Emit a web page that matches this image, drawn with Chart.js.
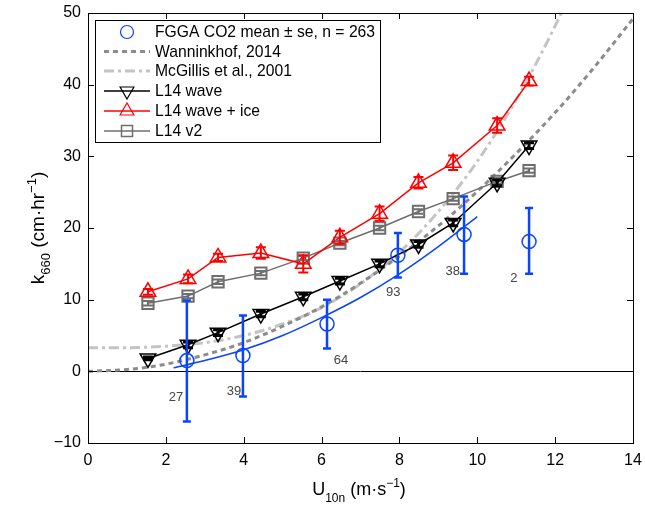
<!DOCTYPE html>
<html>
<head>
<meta charset="utf-8">
<script src="https://cdn.jsdelivr.net/npm/chart.js@4/dist/chart.umd.min.js"></script>
<style>
  html, body { margin: 0; padding: 0; background: #fff; }
  #wrap { width: 645px; height: 506px; position: relative; }
</style>
</head>
<body>
<div id="wrap"><canvas id="chart"></canvas></div>
<script>
// ---- data ----
const xTicks = [0, 2, 4, 6, 8, 10, 12, 14];
const yTicks = [-10, 0, 10, 20, 30, 40, 50];

// FGGA CO2 bin means with standard error
const fggaU    = [2.54, 3.98, 6.14, 7.96, 9.66, 11.33];
const fggaK    = [1.5, 2.2, 6.6, 16.2, 19.1, 18.1];
const fggaLow  = [-7.0, -3.5, 3.2, 13.1, 13.6, 13.6];
const fggaHigh = [9.9, 7.8, 10.0, 19.3, 24.4, 22.8];
const fggaN    = ['27', '39', '64', '93', '38', '2'];
const nLabelU  = [2.26, 3.75, 6.50, 7.84, 9.37, 10.94];
const nLabelK  = [-3.7, -2.8, 1.5, 11.0, 14.0, 13.0];

// fit through FGGA points
const fitU = [2.2, 3, 4, 5, 6, 7, 8, 9, 10];
const fitK = [0.5, 1.5, 3.0, 5.0, 7.5, 10.3, 13.6, 17.4, 21.6];

// Wanninkhof 2014 curve
const wanU = [0, 1, 2, 3, 4, 5, 6, 7, 8, 9, 10, 11, 12, 13, 14];
const wanK = [0, 0.25, 1.0, 2.3, 4.0, 6.3, 9.0, 12.3, 16.1, 20.3, 25.1, 30.4, 36.1, 42.4, 49.2];

// McGillis et al. 2001 curve
const mcgU = [0, 1, 2, 3, 4, 5, 6, 7, 8, 9, 10, 11, 12, 12.5];
const mcgK = [3.3, 3.3, 3.5, 4.0, 5.0, 6.6, 8.9, 12.2, 16.6, 22.3, 29.3, 37.9, 48.2, 54.1];

// L14 model bins
const l14U      = [1.54, 2.57, 3.34, 4.44, 5.53, 6.47, 7.49, 8.49, 9.38, 10.51, 11.33];
const waveK     = [1.8, 3.7, 5.4, 8.0, 10.4, 12.6, 15.0, 17.7, 20.7, 26.3, 31.5];
const waveErr   = [0.2, 0.4, 0.4, 0.4, 0.4, 0.4, 0.4, 0.4, 0.4, 0.4, 0.4];
const iceK      = [11.1, 12.9, 15.9, 16.5, 15.0, 18.7, 22.0, 26.3, 29.1, 34.3, 40.5];
const iceErr    = [0.4, 0.6, 0.5, 0.8, 1.2, 0.9, 1.0, 0.8, 1.0, 1.0, 0.6];
const v2K       = [9.5, 10.5, 12.5, 13.7, 15.8, 17.9, 20.0, 22.3, 24.1, 26.5, 28.0];
const v2Err     = [0.3, 0.3, 0.3, 0.3, 0.3, 0.3, 0.3, 0.3, 0.3, 0.3, 0.3];

const seriesNames = ['FGGA CO2 mean \u00b1 se, n = 263', 'Wanninkhof, 2014', 'McGillis et al., 2001',
                     'L14 wave', 'L14 wave + ice', 'L14 v2'];

const BLUE = '#0a44ff';
const GREY = '#6e6e6e';
const FONT = '"Liberation Sans", Arial, Helvetica, sans-serif';

function pts(xs, ys) { return xs.map((x, i) => ({ x: x, y: ys[i] })); }

// error bars, zero line, frame, inside ticks, tick labels, legend, axis titles
const decor = {
  id: 'decor',
  beforeDatasetsDraw(chart) {
    const { ctx, chartArea: a, scales: { y } } = chart;
    ctx.save();
    ctx.strokeStyle = '#000';
    ctx.lineWidth = 1;
    const y0 = Math.round(y.getPixelForValue(0)) + 0.5;
    ctx.beginPath(); ctx.moveTo(a.left, y0); ctx.lineTo(a.right, y0); ctx.stroke();
    ctx.restore();
  },
  afterDatasetsDraw(chart) {
    const { ctx, scales: { x, y } } = chart;
    ctx.save();
    const bars = (xs, lo, hi, color, lw, cap) => {
      ctx.strokeStyle = color; ctx.lineWidth = lw;
      xs.forEach((u, i) => {
        const px = x.getPixelForValue(u);
        const p1 = y.getPixelForValue(lo[i]), p2 = y.getPixelForValue(hi[i]);
        ctx.beginPath();
        ctx.moveTo(px, p1); ctx.lineTo(px, p2);
        ctx.moveTo(px - cap, p1); ctx.lineTo(px + cap, p1);
        ctx.moveTo(px - cap, p2); ctx.lineTo(px + cap, p2);
        ctx.stroke();
      });
    };
    bars(l14U, v2K.map((k, i) => k - v2Err[i]), v2K.map((k, i) => k + v2Err[i]), GREY, 2, 5);
    bars(l14U, waveK.map((k, i) => k - waveErr[i]), waveK.map((k, i) => k + waveErr[i]), '#000', 3, 5);
    bars(l14U, iceK.map((k, i) => k - iceErr[i]), iceK.map((k, i) => k + iceErr[i]), '#ff0000', 2, 5);
    bars(fggaU, fggaLow, fggaHigh, BLUE, 2.5, 4);

    // sample counts
    ctx.fillStyle = '#444';
    ctx.font = '13px ' + FONT;
    ctx.textAlign = 'center';
    ctx.textBaseline = 'middle';
    fggaN.forEach((t, i) => ctx.fillText(t, x.getPixelForValue(nLabelU[i]), y.getPixelForValue(nLabelK[i])));
    ctx.restore();
  },
  afterDraw(chart) {
    const { ctx, chartArea: a, scales: { x, y } } = chart;
    ctx.save();
    // frame
    ctx.strokeStyle = '#000';
    ctx.lineWidth = 1;
    ctx.strokeRect(Math.round(a.left) + 0.5, Math.round(a.top) + 0.5,
                   Math.round(a.right - a.left), Math.round(a.bottom - a.top));
    // inside ticks
    ctx.beginPath();
    xTicks.forEach(v => {
      const px = Math.round(x.getPixelForValue(v)) + 0.5;
      ctx.moveTo(px, a.bottom); ctx.lineTo(px, a.bottom - 6);
      ctx.moveTo(px, a.top); ctx.lineTo(px, a.top + 6);
    });
    yTicks.forEach(v => {
      const py = Math.round(y.getPixelForValue(v)) + 0.5;
      ctx.moveTo(a.left, py); ctx.lineTo(a.left + 6, py);
      ctx.moveTo(a.right, py); ctx.lineTo(a.right - 6, py);
    });
    ctx.stroke();

    // tick labels
    ctx.fillStyle = '#000';
    ctx.font = '16px ' + FONT;
    ctx.textAlign = 'center';
    ctx.textBaseline = 'top';
    xTicks.forEach(v => ctx.fillText(String(v), x.getPixelForValue(v), a.bottom + 10));
    ctx.textAlign = 'right';
    ctx.textBaseline = 'middle';
    yTicks.forEach(v => ctx.fillText(String(v).replace('-', '\u2212'), a.left - 7, y.getPixelForValue(v)));

    drawLegend(ctx);

    // axis titles
    ctx.fillStyle = '#000';
    ctx.textBaseline = 'alphabetic';
    richText(ctx, [
      { t: 'U', s: 18, dy: 0 }, { t: '10n', s: 12, dy: 7 },
      { t: ' (m\u00b7s', s: 18, dy: 0 }, { t: '\u22121', s: 12, dy: -8 }, { t: ')', s: 18, dy: 0 }
    ], 359, 495);
    ctx.save();
    ctx.translate(44, 228);
    ctx.rotate(-Math.PI / 2);
    richText(ctx, [
      { t: 'k', s: 19, dy: 0 }, { t: '660', s: 13, dy: 6 },
      { t: ' (cm\u00b7hr', s: 19, dy: 0 }, { t: '\u22121', s: 13, dy: -8 }, { t: ')', s: 19, dy: 0 }
    ], 0, 0);
    ctx.restore();
    ctx.restore();
  }
};

function richText(ctx, parts, cx, base) {
  let w = 0;
  parts.forEach(p => { ctx.font = p.s + 'px ' + FONT; p.w = ctx.measureText(p.t).width; w += p.w; });
  let px = cx - w / 2;
  ctx.textAlign = 'left';
  parts.forEach(p => {
    ctx.font = p.s + 'px ' + FONT;
    ctx.fillText(p.t, px, base + p.dy);
    px += p.w;
  });
}

function drawLegend(ctx) {
  const L = 95.5, T = 20.5, W = 285, H = 122;
  ctx.fillStyle = '#fff';
  ctx.fillRect(L, T, W, H);
  ctx.strokeStyle = '#000';
  ctx.lineWidth = 1;
  ctx.strokeRect(L, T, W, H);
  const x1 = 104, x2 = 150, mx = 127, tx = 155;
  const rows = [32, 51.5, 71, 91, 111, 131];
  const line = (yy, color, lw, dash) => {
    ctx.save();
    ctx.strokeStyle = color; ctx.lineWidth = lw; ctx.setLineDash(dash);
    ctx.beginPath(); ctx.moveTo(x1, yy); ctx.lineTo(x2, yy); ctx.stroke();
    ctx.restore();
  };
  // FGGA: marker only
  ctx.strokeStyle = BLUE; ctx.lineWidth = 1.2;
  ctx.beginPath(); ctx.arc(mx, rows[0], 6.5, 0, Math.PI * 2); ctx.stroke();
  line(rows[1], '#8c8c8c', 3, [5, 4]);
  line(rows[2], '#c4c4c4', 3, [10, 4, 3, 4]);
  line(rows[3], '#000', 1.5, []);
  line(rows[4], '#ff0000', 1.5, []);
  line(rows[5], GREY, 1.5, []);
  // markers
  const tri = (yy, color, down) => {
    const r = 8, s = down ? -1 : 1;
    ctx.strokeStyle = color; ctx.lineWidth = 1.2;
    ctx.beginPath();
    ctx.moveTo(mx, yy - s * r);
    ctx.lineTo(mx + r * 0.866, yy + s * r * 0.5);
    ctx.lineTo(mx - r * 0.866, yy + s * r * 0.5);
    ctx.closePath(); ctx.stroke();
  };
  tri(rows[3], '#000', true);
  tri(rows[4], '#ff0000', false);
  ctx.strokeStyle = GREY; ctx.lineWidth = 1.5;
  ctx.strokeRect(mx - 5.5, rows[5] - 5.5, 11, 11);

  ctx.fillStyle = '#000';
  ctx.font = '15.7px ' + FONT;
  ctx.textAlign = 'left';
  ctx.textBaseline = 'middle';
  seriesNames.forEach((t, i) => ctx.fillText(t, tx, rows[i] + 1));
}

new Chart(document.getElementById('chart'), {
  type: 'scatter',
  data: {
    datasets: [
      { data: pts(mcgU, mcgK), showLine: true, borderColor: '#c4c4c4', borderWidth: 3,
        borderDash: [10, 4, 3, 4], pointRadius: 0, cubicInterpolationMode: 'monotone', order: 6 },
      { data: pts(wanU, wanK), showLine: true, borderColor: '#8c8c8c', borderWidth: 3,
        borderDash: [5, 4], pointRadius: 0, cubicInterpolationMode: 'monotone', order: 5 },
      { data: pts(fitU, fitK), showLine: true, borderColor: BLUE, borderWidth: 1.5,
        pointRadius: 0, cubicInterpolationMode: 'monotone', order: 4 },
      { data: pts(l14U, v2K), showLine: true, borderColor: GREY, borderWidth: 1.5,
        pointStyle: 'rect', pointRadius: 8, pointBorderWidth: 2, pointBorderColor: GREY,
        pointBackgroundColor: 'rgba(0,0,0,0)', order: 3 },
      { data: pts(l14U, waveK), showLine: true, borderColor: '#000', borderWidth: 1.5,
        pointStyle: 'triangle', rotation: 180, pointRadius: 9, pointBorderWidth: 1.5,
        pointBorderColor: '#000', pointBackgroundColor: 'rgba(0,0,0,0)', order: 2 },
      { data: pts(l14U, iceK), showLine: true, borderColor: '#ff0000', borderWidth: 1.5,
        pointStyle: 'triangle', pointRadius: 9, pointBorderWidth: 1.5,
        pointBorderColor: '#ff0000', pointBackgroundColor: 'rgba(0,0,0,0)', order: 1 },
      { data: pts(fggaU, fggaK), showLine: false, pointStyle: 'circle', pointRadius: 7,
        pointBorderWidth: 1.5, pointBorderColor: BLUE, pointBackgroundColor: 'rgba(0,0,0,0)', order: 0 }
    ]
  },
  options: {
    responsive: true,
    maintainAspectRatio: false,
    animation: false,
    layout: { padding: { top: 13, right: 12, left: 0, bottom: 0 } },
    plugins: { legend: { display: false }, tooltip: { enabled: false } },
    scales: {
      x: {
        type: 'linear', min: 0, max: 14,
        afterFit: s => { s.height = 63; },
        grid: { display: false, drawTicks: false },
        border: { display: false },
        ticks: { display: false }
      },
      y: {
        type: 'linear', min: -10, max: 50,
        afterFit: s => { s.width = 88; },
        grid: { display: false, drawTicks: false },
        border: { display: false },
        ticks: { display: false }
      }
    }
  },
  plugins: [decor]
});
</script>
</body>
</html>
